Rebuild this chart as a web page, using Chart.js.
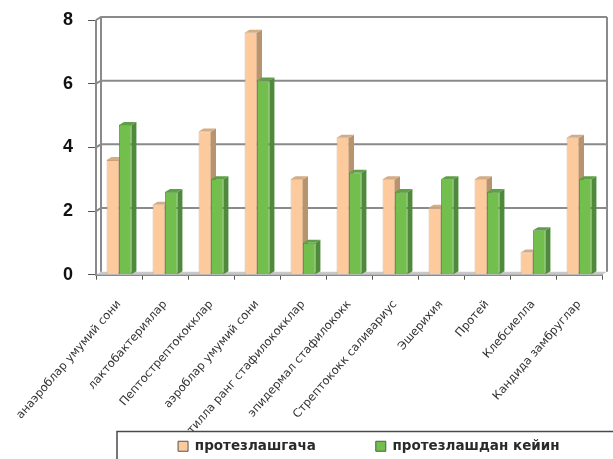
<!DOCTYPE html>
<html>
<head>
<meta charset="utf-8">
<script src="https://cdn.jsdelivr.net/npm/chart.js@4"></script>
<style>
  body { margin: 0; background: #fff; }
  #wrap { width: 613px; height: 459px; position: relative; }
</style>
</head>
<body>
<div id="wrap"><canvas id="bacteriaChart"></canvas></div>
<script>
const categories = [
  'анаэроблар умумий сони',
  'лактобактериялар',
  'Пептострептококклар',
  'аэроблар умумий сони',
  'тилла ранг стафилококклар',
  'эпидермал стафилококк',
  'Стрептококк саливариус',
  'Эшерихия',
  'Протей',
  'Клебсиелла',
  'Кандида замбруглар'
];
const beforeValues = [3.6, 2.2, 4.5, 7.6, 3.0, 4.3, 3.0, 2.1, 3.0, 0.7, 4.3];
const afterValues = [4.7, 2.6, 3.0, 6.1, 1.0, 3.2, 2.6, 3.0, 2.6, 1.4, 3.0];
const seriesNames = ['протезлашгача', 'протезлашдан кейин'];
const yTicks = [0, 2, 4, 6, 8];

const frontColors = ['#fcca9c', '#72bf4e'];
const edgeColors = ['#c9a07c', '#4c8a36'];
const sideColors = ['#b8946e', '#4f8a3c'];
const topColors = ['#d2ad86', '#5f9f48'];
const depthX = 5, depthY = 3;

function poly(ctx, pts, fill) {
  ctx.beginPath();
  ctx.moveTo(pts[0][0], pts[0][1]);
  for (let i = 1; i < pts.length; i++) ctx.lineTo(pts[i][0], pts[i][1]);
  if (fill) { ctx.closePath(); ctx.fill(); } else ctx.stroke();
}

// back walls, floor, gridlines and the 3d sides of the bars
const frame3d = {
  id: 'frame3d',
  beforeDatasetsDraw(chart) {
    const ctx = chart.ctx, a = chart.chartArea, y = chart.scales.y;
    ctx.save();
    ctx.fillStyle = '#c8c8c8';
    poly(ctx, [[a.left, a.bottom], [a.left + depthX, a.bottom - depthY], [a.right + depthX, a.bottom - depthY], [a.right, a.bottom]], true);

    ctx.strokeStyle = '#8a8a8a';
    ctx.lineWidth = 2;
    yTicks.forEach(v => {
      const py = y.getPixelForValue(v);
      if (v === 0) return;
      poly(ctx, [[a.left, py], [a.left + depthX, py - depthY], [a.right + depthX, py - depthY]]);
    });
    poly(ctx, [[a.left + depthX, a.top - depthY], [a.left + depthX, a.bottom - depthY]]);
    poly(ctx, [[a.right + depthX, a.top - depthY], [a.right + depthX, a.bottom - depthY]]);
    poly(ctx, [[a.left, a.top], [a.left, a.bottom]]);

    chart.data.datasets.forEach((ds, i) => {
      chart.getDatasetMeta(i).data.forEach(bar => {
        const l = bar.x - bar.width / 2, r = bar.x + bar.width / 2;
        ctx.fillStyle = sideColors[i];
        poly(ctx, [[r, bar.y], [r + depthX, bar.y - depthY], [r + depthX, bar.base - depthY], [r, bar.base]], true);
        ctx.fillStyle = topColors[i];
        poly(ctx, [[l, bar.y], [l + depthX, bar.y - depthY], [r + depthX, bar.y - depthY], [r, bar.y]], true);
      });
    });
    ctx.restore();
  },
  afterDraw(chart) {
    const ctx = chart.ctx, lg = chart.legend;
    ctx.save();
    ctx.strokeStyle = '#4a4a4a';
    ctx.lineWidth = 1.5;
    ctx.strokeRect(chart.chartArea.left + 21, lg.top - 2, chart.width, 60);
    ctx.restore();
  }
};

new Chart(document.getElementById('bacteriaChart'), {
  type: 'bar',
  data: {
    labels: categories,
    datasets: [
      { label: seriesNames[0], data: beforeValues },
      { label: seriesNames[1], data: afterValues }
    ].map((d, i) => Object.assign(d, {
      backgroundColor: frontColors[i],
      borderColor: edgeColors[i],
      borderWidth: 0.8,
      categoryPercentage: 0.54,
      barPercentage: 1.0
    }))
  },
  options: {
    responsive: true,
    maintainAspectRatio: false,
    animation: false,
    layout: { padding: { left: 11, right: 11, top: 20, bottom: -4 } },
    plugins: {
      tooltip: { enabled: false },
      legend: {
        position: 'bottom',
        align: 'end',
        labels: {
          boxWidth: 10,
          boxHeight: 10,
          padding: 6,
          color: '#2a2a2a',
          font: { family: 'DejaVu Sans', size: 13.5, weight: 'bold' },
          generateLabels(chart) {
            const items = Chart.defaults.plugins.legend.labels.generateLabels(chart);
            items[0].text += '\u2003\u2003\u2003\u2003';
            items[1].text += '\u2003\u2003\u2002\u2009';
            items.forEach(it => { it.lineWidth = 1; it.strokeStyle = '#555'; });
            return items;
          }
        }
      }
    },
    scales: {
      x: {
        afterFit(scale) {
          scale.height = 158.8;
          scale.paddingLeft = 0;
          scale.paddingRight = 0;
        },
        grid: { display: true, drawOnChartArea: false, drawTicks: true, tickLength: 5, color: '#555' },
        border: { display: true, color: '#8a8a8a', width: 2 },
        ticks: {
          autoSkip: false,
          minRotation: 49,
          maxRotation: 49,
          padding: 18,
          color: '#333',
          font: { family: 'DejaVu Sans', size: 11.5 }
        }
      },
      y: {
        min: 0,
        max: 8,
        afterFit(scale) {
          scale.width = 85;
          scale.paddingTop = 0;
          scale.paddingBottom = 0;
        },
        afterBuildTicks(scale) { scale.ticks = yTicks.map(v => ({ value: v })); },
        grid: { drawOnChartArea: false, tickLength: 8, tickColor: '#555', tickWidth: 1 },
        border: { display: false },
        ticks: {
          padding: 15,
          color: '#111',
          font: { family: 'Liberation Sans', size: 18, weight: 'bold', lineHeight: 1 }
        }
      }
    }
  },
  plugins: [frame3d]
});
</script>
</body>
</html>
